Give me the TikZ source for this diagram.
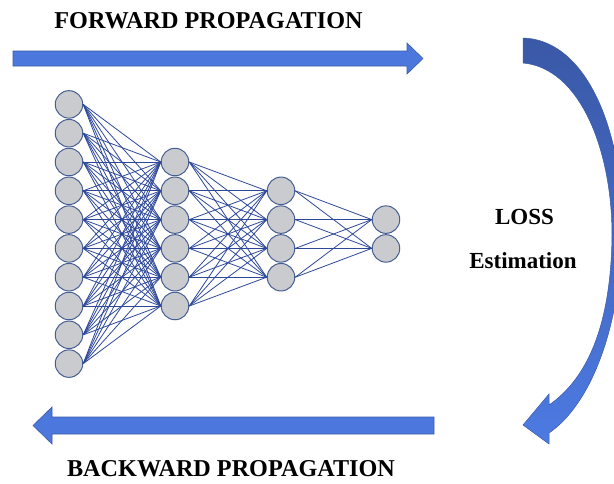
\documentclass[tikz,border=0pt]{standalone}
\usepackage{fontspec}
\setmainfont{Liberation Serif}
\definecolor{arrowblue}{HTML}{4C77DD}
\definecolor{arrowedge}{HTML}{3A5BA8}
\definecolor{curvetop}{HTML}{3A58A6}
\definecolor{curvebot}{HTML}{4D7AE2}
\definecolor{neuronfill}{HTML}{C9CBCF}
\definecolor{neuronedge}{HTML}{475E92}
\definecolor{wire}{HTML}{2D4899}
\tikzset{
  neuron/.style={circle, fill=neuronfill, draw=neuronedge, line width=1pt,
                 minimum size=27.5pt, inner sep=0pt},
  synapse/.style={draw=wire, line width=0.8pt},
  bigarrow/.style={fill=arrowblue, draw=arrowedge, line width=0.6pt},
  caption/.style={font=\fontsize{23}{27}\selectfont\bfseries, anchor=base, inner sep=0pt},
  headline/.style={caption, font=\fontsize{24.2}{28}\selectfont\bfseries}
}
\begin{document}
\begin{tikzpicture}[x=1pt, y=-1pt]
  \useasboundingbox (0,0) rectangle (614,483);
  \clip (0,0) rectangle (614,483);

  % layers of neurons (centre line y = 234, pitch 28.8)
  \foreach \i in {1,...,10}
    \node[neuron] (a\i) at (69, {234 + (\i - 5.5)*28.8}) {};
  \foreach \i in {1,...,6}
    \node[neuron] (b\i) at (175, {234 + (\i - 3.5)*28.8}) {};
  \foreach \i in {1,...,4}
    \node[neuron] (c\i) at (281, {234 + (\i - 2.5)*28.8}) {};
  \foreach \i in {1,2}
    \node[neuron] (d\i) at (386, {234 + (\i - 1.5)*28.8}) {};

  % fully connected weights
  \foreach \i in {1,...,10}
    \foreach \j in {1,...,6}
      \draw[synapse] (a\i.east) -- (b\j.west);
  \foreach \i in {1,...,6}
    \foreach \j in {1,...,4}
      \draw[synapse] (b\i.east) -- (c\j.west);
  \foreach \i in {1,...,4}
    \foreach \j in {1,2}
      \draw[synapse] (c\i.east) -- (d\j.west);

  % forward propagation arrow
  \draw[bigarrow] (13,51) -- (407,51) -- (407,43) -- (423,58.5) -- (407,74)
                  -- (407,66) -- (13,66) -- cycle;
  \node[headline] (fwd) at (208.5,28) {FORWARD PROPAGATION};

  % backward propagation arrow
  \draw[bigarrow] (434,417) -- (52,417) -- (52,407) -- (33,425.5) -- (52,444)
                  -- (52,434) -- (434,434) -- cycle;
  \node[headline] (bwd) at (231,476) {BACKWARD PROPAGATION};

  % curved arrow around the loss
  \shadedraw[top color=curvetop, bottom color=curvebot, draw=arrowedge, line width=0.5pt]
    (523,38) .. controls (590,40) and (625,140) .. (622,235)
    .. controls (620,330) and (590,405) .. (549,433)
    -- (549,444) -- (523,425) -- (549,394) -- (549,405)
    .. controls (585,380) and (611,330) .. (612,235)
    .. controls (612,150) and (580,68) .. (523,63) -- cycle;

  \node[caption] (loss) at (524.5,224) {LOSS};
  \node[caption] (est) at (523,268) {Estimation};
\end{tikzpicture}
\end{document}
